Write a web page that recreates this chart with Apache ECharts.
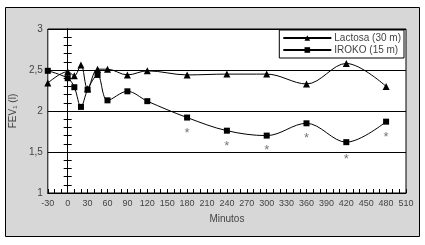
<!DOCTYPE html>
<html>
<head>
<meta charset="utf-8">
<script src="https://cdn.jsdelivr.net/npm/echarts@6/dist/echarts.min.js"></script>
<style>
  html, body { margin: 0; padding: 0; background: #fff; }
  #chart { width: 425px; height: 245px; }
</style>
</head>
<body>
<div id="chart"></div>
<script>
// minutes after inhalation
const minutes = [-30, 0, 10, 20, 30, 45, 60, 90, 120, 180, 240, 300, 360, 420, 480];
const lactosa = [2.34, 2.48, 2.43, 2.56, 2.27, 2.51, 2.51, 2.44, 2.49, 2.44, 2.45, 2.45, 2.33, 2.58, 2.30];
const iroko = [2.49, 2.40, 2.29, 2.05, 2.26, 2.44, 2.13, 2.24, 2.12, 1.92, 1.76, 1.70, 1.85, 1.62, 1.87];
// significance marks
const starMinutes = [180, 240, 300, 360, 420, 480];
const starValues = [1.76, 1.61, 1.56, 1.70, 1.45, 1.71];

const font = "Liberation Sans";
const textColor = "#444";

const chart = echarts.init(document.getElementById("chart"));

chart.setOption({
  animation: false,
  graphic: [{
    type: "rect",
    z: -10,
    shape: { x: 5.5, y: 7.5, width: 414, height: 229 },
    style: { fill: "#d7d7d7", stroke: "#000", lineWidth: 1 }
  }],
  legend: {
    orient: "vertical",
    right: 21,
    top: 30,
    padding: [3, 3, 3, 3],
    itemGap: 2,
    itemWidth: 48,
    itemHeight: 7,
    backgroundColor: "#fff",
    borderColor: "#000",
    borderWidth: 1,
    borderRadius: 0,
    textStyle: { fontFamily: font, fontSize: 10, color: textColor, padding: [0, 0, 0, -2] },
    data: ["Lactosa (30 m)", "IROKO (15 m)"]
  },
  grid: {
    left: 44, right: 19, top: 29, bottom: 52,
    show: true,
    backgroundColor: "#fff",
    borderColor: "#000",
    borderWidth: 1
  },
  xAxis: {
    type: "value",
    min: -30,
    max: 510,
    interval: 30,
    name: "Minutos",
    nameLocation: "middle",
    nameGap: 21,
    nameTextStyle: { fontFamily: font, fontSize: 10, color: textColor },
    axisLine: { onZero: false, lineStyle: { color: "#000" } },
    axisTick: { inside: true, length: 4, lineStyle: { color: "#000" } },
    minorTick: { show: true, splitNumber: 3, length: 4, lineStyle: { color: "#000" } },
    splitLine: { show: false },
    axisLabel: { fontFamily: font, fontSize: 9, color: textColor, margin: 6 }
  },
  yAxis: [
    {
      type: "value",
      min: 1,
      max: 3,
      interval: 0.5,
      name: "FEV\u2081 (l)",
      nameLocation: "middle",
      nameGap: 24,
      nameTextStyle: { fontFamily: font, fontSize: 10, color: textColor },
      axisLine: { show: false, onZero: false },
      axisTick: { show: false },
      splitLine: { show: true, lineStyle: { color: "#000", width: 1 } },
      axisLabel: {
        fontFamily: font, fontSize: 10, color: textColor, margin: 5,
        formatter: (v) => String(v).replace(".", ",")
      }
    },
    {
      type: "value",
      min: 1,
      max: 3,
      interval: 0.1,
      position: "left",
      axisLine: { show: true, onZero: true, onZeroAxisIndex: 0, lineStyle: { color: "#000" } },
      axisTick: { show: true, length: 4, lineStyle: { color: "#000" } },
      axisLabel: { show: false },
      splitLine: { show: false }
    },
    {
      type: "value",
      min: 1,
      max: 3,
      interval: 0.1,
      position: "left",
      axisLine: { show: true, onZero: true, onZeroAxisIndex: 0, lineStyle: { color: "#000" } },
      axisTick: { show: true, inside: true, length: 4, lineStyle: { color: "#000" } },
      axisLabel: { show: false },
      splitLine: { show: false }
    }
  ],
  series: [
    {
      name: "Lactosa (30 m)",
      type: "line",
      smooth: 0.35,
      symbol: "triangle",
      symbolSize: 7,
      color: "#000",
      lineStyle: { color: "#000", width: 1 },
      itemStyle: { color: "#000" },
      data: minutes.map((m, i) => [m, lactosa[i]]),
      z: 3
    },
    {
      name: "IROKO (15 m)",
      type: "line",
      smooth: 0.35,
      symbol: "rect",
      symbolSize: 6,
      color: "#000",
      lineStyle: { color: "#000", width: 1 },
      itemStyle: { color: "#000" },
      data: minutes.map((m, i) => [m, iroko[i]]),
      z: 4
    },
    {
      name: "p",
      type: "scatter",
      symbolSize: 6,
      itemStyle: { color: "rgba(0,0,0,0)" },
      label: {
        show: true,
        position: "inside",
        formatter: "*",
        fontFamily: font,
        fontSize: 13,
        color: "#555",
        offset: [0, 3]
      },
      data: starMinutes.map((m, i) => [m, starValues[i]]),
      z: 2
    }
  ]
});
</script>
</body>
</html>
